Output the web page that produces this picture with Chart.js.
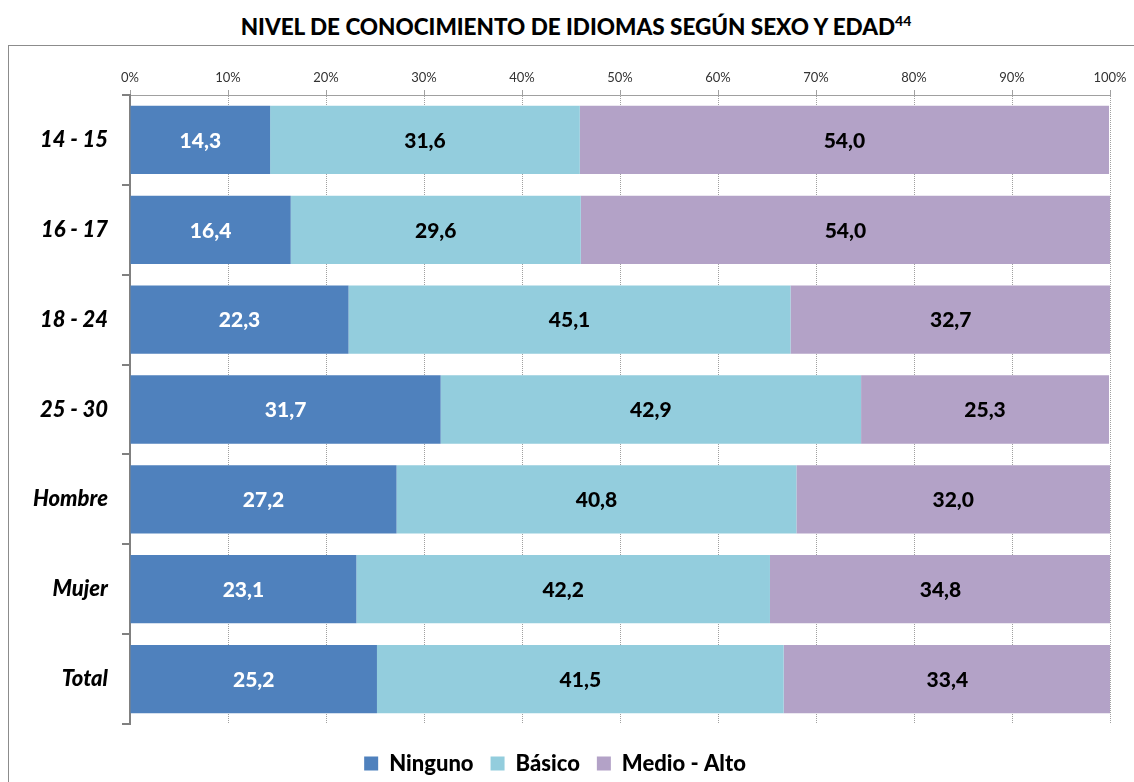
<!DOCTYPE html>
<html>
<head>
<meta charset="utf-8">
<script src="https://cdn.jsdelivr.net/npm/chart.js@4.4.0/dist/chart.umd.min.js"></script>
<style>
body{margin:0;background:#fff;font-family:Lato,"Open Sans",sans-serif}
#wrap{position:relative;width:1134px;height:782px;overflow:hidden}
#title{position:absolute;left:0;width:1152px;top:12px;text-align:center;font-weight:900;font-size:22.5px;color:#000}
#title sup{font-size:14px}
#frame{position:absolute;left:8px;top:45px;width:1200px;height:800px;border-left:1px solid #8c8c8c;border-top:1px solid #8c8c8c}
canvas{position:absolute;left:0;top:0}
</style>
</head>
<body>
<div id="wrap">
<div id="frame"></div>
<div id="title">NIVEL DE CONOCIMIENTO DE IDIOMAS SEGÚN SEXO Y EDAD<sup>44</sup></div>
<canvas id="c" width="1134" height="782"></canvas>
</div>
<script>
let categories=["14 - 15","16 - 17","18 - 24","25 - 30","Hombre","Mujer","Total"]
let ninguno=[14.3,16.4,22.3,31.7,27.2,23.1,25.2]
let basico=[31.6,29.6,45.1,42.9,40.8,42.2,41.5]
let medioAlto=[54.0,54.0,32.7,25.3,32.0,34.8,33.4]
let xTicks=[0,10,20,30,40,50,60,70,80,90,100]

// numbers inside the bars, comma decimals
let valueLabels={
id:"valueLabels",
afterDatasetsDraw(chart){
let ctx=chart.ctx
ctx.save()
ctx.font="900 21px Lato"
ctx.textAlign="center"
ctx.textBaseline="middle"
chart.data.datasets.forEach((ds,i)=>{
let meta=chart.getDatasetMeta(i)
meta.data.forEach((bar,j)=>{
let cx=(bar.x+bar.base)/2
ctx.fillStyle=i===0?"#fff":"#000"
ctx.fillText(ds.data[j].toFixed(1).replace(".",","),cx,bar.y+1)
})
})
ctx.restore()
}
}

// legend sits lower than chart.js would put it
let legendShift={
id:"legendShift",
afterLayout(chart){
let d=782-22-(chart.legend.top+chart.legend.bottom)/2
chart.legend.top+=d
chart.legend.bottom+=d
}
}

new Chart(document.getElementById("c"),{
type:"bar",
data:{
labels:categories,
datasets:[
{label:"Ninguno",data:ninguno,backgroundColor:"#4f81bd"},
{label:"Básico",data:basico,backgroundColor:"#93cddd"},
{label:"Medio - Alto",data:medioAlto,backgroundColor:"#b3a2c7"}
]
},
options:{
indexAxis:"y",
responsive:false,
animation:false,
layout:{padding:{left:0,right:24,top:50,bottom:9}},
datasets:{bar:{barPercentage:0.76,categoryPercentage:1}},
scales:{
x:{
position:"top",
stacked:true,
min:0,max:100,
afterBuildTicks(axis){axis.ticks=xTicks.map(v=>({value:v}))},
afterFit(axis){axis.height=45},
ticks:{callback:v=>v+"%",font:{family:"Lato",size:13},color:"#333",padding:4},
grid:{color:"#a0a0a0",tickLength:5,lineWidth:1},
border:{display:true,dash:[1,1],color:"#a0a0a0"}
},
y:{
stacked:true,
afterFit(axis){axis.width=130},
ticks:{font:{family:"Lato",size:22,weight:"900",style:"italic"},color:"#000",padding:14},
grid:{offset:true,drawOnChartArea:false,tickLength:8,color:"#808080",lineWidth:2},
border:{display:true,color:"#808080",width:2}
}
},
plugins:{
legend:{
position:"bottom",
labels:{boxWidth:14,boxHeight:14,padding:17,font:{family:"Lato",size:22,weight:"900"},color:"#000"}
},
tooltip:{enabled:false}
}
},
plugins:[valueLabels,legendShift]
})
</script>
</body>
</html>
